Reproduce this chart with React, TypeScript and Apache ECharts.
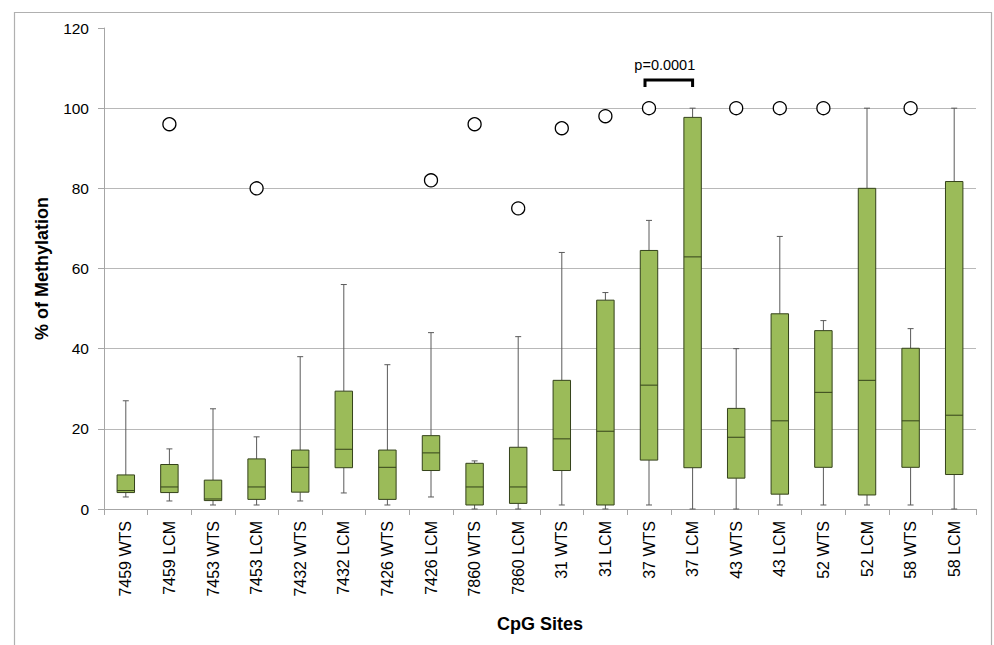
import React, { useEffect, useRef } from "react";
import * as echarts from "echarts";

const categories = [
  "7459 WTS", "7459 LCM", "7453 WTS", "7453 LCM", "7432 WTS", "7432 LCM",
  "7426 WTS", "7426 LCM", "7860 WTS", "7860 LCM", "31 WTS", "31 LCM",
  "37 WTS", "37 LCM", "43 WTS", "43 LCM", "52 WTS", "52 LCM", "58 WTS", "58 LCM",
];
const whiskerMin = [3, 2, 1, 1, 2, 4, 1, 3, 0, 0, 1, 0, 1, 0, 0, 1, 1, 1, 1, 0];
const q1 = [4.1, 4.1, 2.1, 2.4, 4.2, 10.3, 2.4, 9.6, 1, 1.4, 9.6, 1, 12.2, 10.3, 7.7, 3.7, 10.4, 3.5, 10.4, 8.6];
const median = [4.6, 5.5, 2.5, 5.5, 10.4, 14.9, 10.4, 14, 5.5, 5.5, 17.5, 19.4, 30.9, 62.9, 17.9, 22, 29.1, 32.1, 22, 23.4];
const q3 = [8.5, 11.1, 7.2, 12.5, 14.7, 29.4, 14.7, 18.3, 11.4, 15.4, 32.1, 52.1, 64.5, 97.7, 25.1, 48.7, 44.5, 80, 40.1, 81.7];
const whiskerMax = [27, 15, 25, 18, 38, 56, 36, 44, 12, 43, 64, 54, 72, 100, 40, 68, 47, 100, 45, 100];

const outlierCats = ["7459 LCM", "7453 LCM", "7426 LCM", "7860 WTS", "7860 LCM", "31 WTS", "31 LCM", "37 WTS", "43 WTS", "43 LCM", "52 WTS", "58 WTS"];
const outlierValues = [96, 80, 82, 96, 75, 95, 98, 100, 100, 100, 100, 100];

const bracketFrom = "37 WTS";
const bracketTo = "37 LCM";
const bracketValue = 107;
const bracketLabel = "p=0.0001";

const yTicks = { min: 0, max: 120, interval: 20 };

const FONT = "'Liberation Sans', Arial, sans-serif";
const BOX_FILL = "#9BBB59";
const BOX_EDGE = "#34421a";
const WHISKER = "#5a5a5a";
const AXIS = "#a6a6a6";
const GRID = "#b8b8b8";

export default function App() {
  const ref = useRef<HTMLDivElement>(null);
  useEffect(() => {
    document.body.style.margin = "0";
    if (!ref.current) return;
    const chart = echarts.init(ref.current, undefined, { renderer: "svg" });

    const boxData = categories.map((c, i) => [i, whiskerMin[i], q1[i], median[i], q3[i], whiskerMax[i]]);
    const outlierData = outlierCats.map((c, i) => [categories.indexOf(c), outlierValues[i]]);
    const bracketData = [[categories.indexOf(bracketFrom), categories.indexOf(bracketTo), bracketValue]];

    const option: any = {
      animation: false,
      backgroundColor: "#fff",
      graphic: [
        {
          type: "rect",
          left: 12,
          top: 10,
          shape: { width: 977, height: 660 },
          style: { fill: "none", stroke: "#b0b0b0", lineWidth: 1.2 },
          silent: true,
          z: -10,
        },
      ],
      grid: { left: 104, right: 18, top: 28, bottom: 136, containLabel: false },
      xAxis: {
        type: "category",
        data: categories,
        boundaryGap: true,
        name: "CpG Sites",
        nameLocation: "middle",
        nameGap: 106,
        nameTextStyle: { fontFamily: FONT, fontSize: 18, fontWeight: "bold", color: "#000", verticalAlign: "top" },
        axisLine: { lineStyle: { color: AXIS, width: 1 } },
        axisTick: { show: true, length: 6, lineStyle: { color: AXIS } },
        axisLabel: { rotate: 90, fontFamily: FONT, fontSize: 16, color: "#000", margin: 12, interval: 0 },
        splitLine: { show: false },
      },
      yAxis: {
        type: "value",
        min: yTicks.min,
        max: yTicks.max,
        interval: yTicks.interval,
        name: "% of Methylation",
        nameLocation: "middle",
        nameGap: 53,
        nameRotate: 90,
        nameTextStyle: { fontFamily: FONT, fontSize: 18, fontWeight: "bold", color: "#000" },
        axisLine: { show: true, lineStyle: { color: AXIS, width: 1 } },
        axisTick: { show: true, length: 6, lineStyle: { color: AXIS } },
        axisLabel: { fontFamily: FONT, fontSize: 15.5, color: "#000", margin: 15 },
        splitLine: { show: true, showMaxLine: false, lineStyle: { color: GRID, width: 1 } },
      },
      series: [
        {
          type: "custom",
          name: "box",
          data: boxData,
          encode: { x: 0, y: [1, 2, 3, 4, 5] },
          z: 3,
          renderItem: (params: any, api: any) => {
            const x = api.value(0);
            const pMin = api.coord([x, api.value(1)]);
            const pQ1 = api.coord([x, api.value(2)]);
            const pMed = api.coord([x, api.value(3)]);
            const pQ3 = api.coord([x, api.value(4)]);
            const pMax = api.coord([x, api.value(5)]);
            const band = api.size([1, 0])[0];
            const bw = band * 0.4;
            const cap = 3;
            const cx = pMed[0];
            return {
              type: "group",
              children: [
                { type: "line", shape: { x1: cx, y1: pMax[1], x2: cx, y2: pQ3[1] }, style: { stroke: WHISKER, lineWidth: 1 } },
                { type: "line", shape: { x1: cx - cap, y1: pMax[1], x2: cx + cap, y2: pMax[1] }, style: { stroke: WHISKER, lineWidth: 1 } },
                { type: "line", shape: { x1: cx, y1: pQ1[1], x2: cx, y2: pMin[1] }, style: { stroke: WHISKER, lineWidth: 1 } },
                { type: "line", shape: { x1: cx - cap, y1: pMin[1], x2: cx + cap, y2: pMin[1] }, style: { stroke: WHISKER, lineWidth: 1 } },
                {
                  type: "rect",
                  shape: { x: cx - bw / 2, y: pQ3[1], width: bw, height: pQ1[1] - pQ3[1] },
                  style: { fill: BOX_FILL, stroke: BOX_EDGE, lineWidth: 1 },
                },
                { type: "line", shape: { x1: cx - bw / 2, y1: pMed[1], x2: cx + bw / 2, y2: pMed[1] }, style: { stroke: BOX_EDGE, lineWidth: 1 } },
              ],
            };
          },
        },
        {
          type: "scatter",
          name: "outliers",
          data: outlierData,
          symbol: "circle",
          symbolSize: 13,
          z: 4,
          itemStyle: { color: "#fff", borderColor: "#000", borderWidth: 1.3, opacity: 1 },
        },
        {
          type: "custom",
          name: "bracket",
          data: bracketData,
          encode: { x: [0, 1], y: 2 },
          z: 5,
          renderItem: (params: any, api: any) => {
            const a = api.coord([api.value(0), api.value(2)]);
            const b = api.coord([api.value(1), api.value(2)]);
            const left = a[0] - 4;
            const right = b[0];
            const y = a[1];
            return {
              type: "group",
              children: [
                {
                  type: "polyline",
                  shape: { points: [[left, y + 7], [left, y], [right, y], [right, y + 7]] },
                  style: { stroke: "#000", lineWidth: 3, fill: "none" },
                },
                {
                  type: "text",
                  style: {
                    x: (left + right) / 2 - 4,
                    y: y - 15,
                    text: bracketLabel,
                    fill: "#000",
                    font: `14.5px ${FONT}`,
                    align: "center",
                    verticalAlign: "middle",
                  },
                },
              ],
            };
          },
        },
      ],
    };
    chart.setOption(option);
    return () => chart.dispose();
  }, []);
  return <div ref={ref} style={{ width: 994, height: 645 }} />;
}
